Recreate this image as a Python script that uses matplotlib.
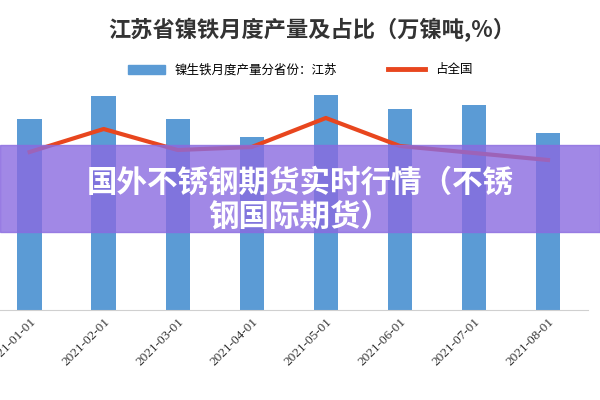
import matplotlib
matplotlib.use("Agg")
import matplotlib.pyplot as plt
from matplotlib.lines import Line2D
from matplotlib.patches import Patch

plt.rcParams['font.family'] = ['Noto Sans CJK SC', 'DejaVu Sans']

months = ["2021-01-01", "2021-02-01", "2021-03-01", "2021-04-01",
          "2021-05-01", "2021-06-01", "2021-07-01", "2021-08-01"]
output = [1.91, 2.14, 1.91, 1.73, 2.15, 2.01, 2.05, 1.77]
share = [15.8, 18.1, 16.0, 16.3, 19.2, 16.4, 15.7, 15.0]

fig = plt.figure(figsize=(6, 4), dpi=100)
ax = fig.add_axes([0.0, 0.225, 0.98, 0.625])
x = list(range(len(months)))
ax.bar(x, output, width=0.33, color='#5b9bd5')
ax.set_xlim(-0.4, 7.54)
ax.set_ylim(0, 2.5)
ax.set_yticks([])
for s in ['top', 'right', 'left']:
    ax.spines[s].set_visible(False)
ax.spines['bottom'].set_color('#d0d0d0')
ax.set_xticks(x)
ax.set_xticklabels(months, rotation=45, ha='right', rotation_mode='anchor',
                   fontsize=9.5, family='Liberation Serif', color='#333333')
ax.tick_params(axis='x', length=0, pad=4)

ax2 = ax.twinx()
ax2.plot(x, share, color='#e8461e', lw=3)
ax2.set_ylim(0, 25)
ax2.set_yticks([])
for s in ax2.spines.values():
    s.set_visible(False)

fig.text(0.52, 0.925, "江苏省镍铁月度产量及占比（万镍吨,%）", ha='center', va='center',
         fontsize=16, color='#333333', weight='bold')
handles = [Patch(color='#5b9bd5'), Line2D([0], [0], color='#e8461e', lw=3.5)]
fig.legend(handles, ["镍生铁月度产量分省份：江苏", "占全国"], loc='center',
           bbox_to_anchor=(0.5, 0.825), ncol=2, frameon=False, fontsize=9,
           handlelength=3, columnspacing=4)

fig.patches.append(plt.Rectangle((0, 0.42), 1, 0.218, transform=fig.transFigure,
                                 color='#8a6be0', alpha=0.8, zorder=10))
fig.text(0.5, 0.543, "国外不锈钢期货实时行情（不锈", ha='center', va='center',
         fontsize=22, color='white', weight='bold', zorder=11)
fig.text(0.5, 0.458, "钢国际期货）", ha='center', va='center',
         fontsize=22, color='white', weight='bold', zorder=11)

fig.savefig("out.png", dpi=100)
